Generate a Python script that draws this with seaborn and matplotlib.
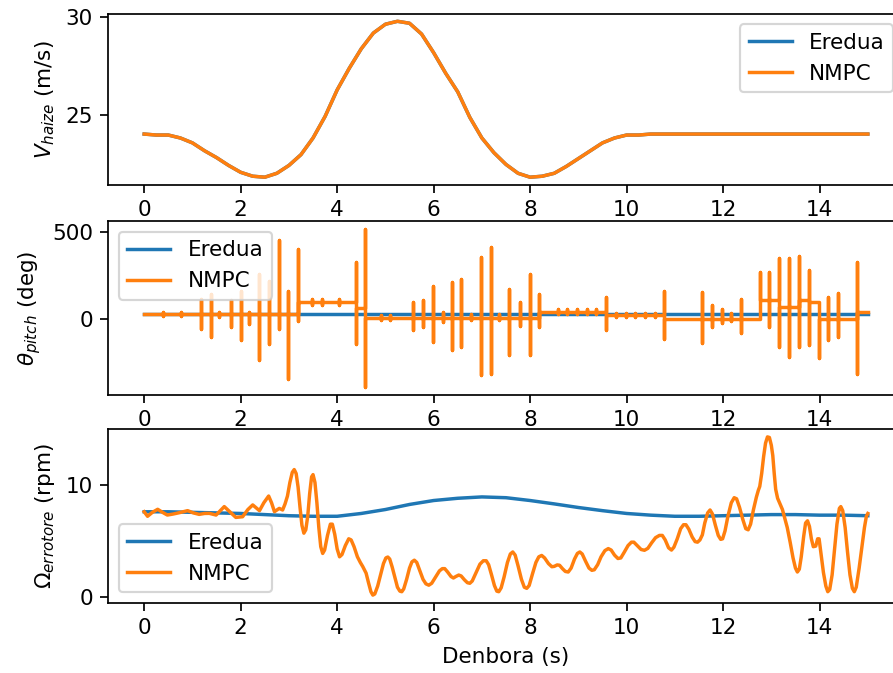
import numpy as np
import matplotlib
matplotlib.use("Agg")
import matplotlib.pyplot as plt
import seaborn as sns

# ---------------- wind speed (m/s) ----------------
wind_t = np.arange(0, 15.01, 0.25)
wind_v = [24.05, 24.0, 24.0, 23.85, 23.6, 23.2, 22.85, 22.45, 22.1, 21.9,
          21.85, 22.05, 22.45, 23.0, 23.85, 24.95, 26.3, 27.4, 28.4, 29.2,
          29.65, 29.8, 29.7, 29.15, 28.2, 27.15, 26.2, 24.9, 23.85, 23.1,
          22.5, 22.05, 21.85, 21.9, 22.05, 22.4, 22.8, 23.2, 23.6, 23.85,
          24.0, 24.0, 24.05, 24.05, 24.05, 24.05, 24.05, 24.05, 24.05, 24.05,
          24.05, 24.05, 24.05, 24.05, 24.05, 24.05, 24.05, 24.05, 24.05, 24.05,
          24.05]

# ---------------- pitch angle (deg) ----------------
ref_pitch_t = [0.0, 5.0, 10.0, 15.0]
ref_pitch_v = [27, 27, 27, 27]

# NMPC pitch: plateau levels between breakpoints ...
pitch_break_t = [0.0, 3.19, 4.39, 4.58, 8.19, 9.58, 10.77, 12.76, 13.16,
                 13.57, 13.78, 13.98, 14.78, 15.0]
pitch_level = [27, 96, 65, 7, 42, 20, 0, 110, 67, 110, 96, 0, 37]
# ... and the spikes (time, upper peak, lower peak)
spike_t = [0.38, 0.76, 1.18, 1.38, 1.56, 1.80, 2.00, 2.18, 2.39, 2.59, 2.80,
           2.99, 3.19, 3.48, 3.68, 4.03, 4.39, 4.58, 4.90, 5.10, 5.57, 5.77,
           5.98, 6.19, 6.38, 6.57, 6.78, 6.98, 7.19, 7.36, 7.57, 7.78, 7.99,
           8.19, 8.57, 8.77, 8.98, 9.17, 9.37, 9.58, 9.79, 9.98, 10.18, 10.39,
           10.58, 10.77, 11.57, 11.77, 11.97, 12.17, 12.37, 12.76, 12.95,
           13.16, 13.37, 13.57, 13.78, 13.98, 14.18, 14.39, 14.78]
spike_hi = [37, 37, 115, 144, 40, 106, 163, 40, 260, 221, 456,
            163, 404, 112, 112, 114, 327, 520, 20, 20, 96, 106,
            192, 40, 211, 230, 25, 356, 417, 25, 173, 96, 260,
            144, 55, 55, 55, 55, 55, 125, 34, 34, 34, 34,
            34, 163, 154, 81, 58, 35, 115, 273, 273,
            350, 350, 365, 283, 96, 129, 148, 327]
spike_lo = [18, 18, -58, -106, 10, -48, -121, -30, -241, -144, -58,
            -347, -10, 80, 80, 78, -144, -395, -5, -5, -67, -48,
            -135, -20, -183, -164, -5, -327, -318, -5, -212, -40, -212,
            -48, 30, 30, 30, 30, 30, -62, 8, 8, 8, 8,
            8, -116, -141, -46, -27, -15, -81, 0, -48,
            -164, -222, -164, -154, -227, -121, -106, -318]

# ---------------- rotor speed (rpm) ----------------
ref_rotor_t = [0, 0.5, 1, 1.5, 2, 2.5, 3, 3.5, 4, 4.5, 5, 5.5, 6, 6.5, 7, 7.5,
               8, 8.5, 9, 9.5, 10, 10.5, 11, 11.5, 12, 12.5, 13, 13.5, 14,
               14.5, 15]
ref_rotor_v = [7.6, 7.6, 7.55, 7.5, 7.45, 7.35, 7.25, 7.2, 7.2, 7.45, 7.8,
               8.25, 8.6, 8.8, 8.92, 8.85, 8.6, 8.3, 7.98, 7.7, 7.45, 7.3,
               7.2, 7.2, 7.25, 7.3, 7.35, 7.35, 7.3, 7.3, 7.25]

nmpc_rotor_t = [0.00, 0.07, 0.17, 0.28, 0.38, 0.48, 0.60, 0.73, 0.90, 1.02,
                1.14, 1.25, 1.35, 1.49, 1.58, 1.66, 1.75, 1.90, 2.04, 2.15,
                2.25, 2.32, 2.39, 2.48, 2.58, 2.64, 2.70, 2.80, 2.87,
                2.92, 2.97, 3.02, 3.07, 3.11, 3.15, 3.19, 3.23, 3.27, 3.31,
                3.35, 3.39, 3.43, 3.47, 3.50, 3.54, 3.58, 3.62, 3.66, 3.70,
                3.74, 3.80, 3.86, 3.90, 3.95, 4.00, 4.05, 4.10, 4.17, 4.24,
                4.29, 4.35, 4.42, 4.48, 4.53,
                4.60, 4.65, 4.70, 4.74, 4.78, 4.84, 4.90, 4.96, 5.01, 5.05,
                5.09, 5.14, 5.20, 5.25, 5.30, 5.34, 5.38, 5.44, 5.50, 5.55,
                5.60, 5.65, 5.71, 5.78, 5.84, 5.90, 5.96, 6.04, 6.12, 6.18,
                6.23, 6.29, 6.36, 6.41, 6.46, 6.52, 6.57, 6.64, 6.70, 6.75,
                6.80, 6.88, 6.96, 7.03, 7.09, 7.14, 7.20, 7.26, 7.31, 7.35,
                7.40, 7.46, 7.53, 7.59, 7.64, 7.69, 7.75, 7.82, 7.88, 7.93,
                7.98, 8.05, 8.12, 8.18, 8.24, 8.30, 8.38, 8.45, 8.50, 8.56,
                8.61, 8.67, 8.73, 8.79, 8.85, 8.92, 8.98, 9.03, 9.08, 9.15,
                9.22, 9.28, 9.33, 9.40, 9.47, 9.55, 9.62, 9.68, 9.75, 9.82,
                9.88, 9.95, 10.03, 10.10, 10.15, 10.22, 10.30, 10.37, 10.44, 10.52,
                10.60, 10.68, 10.74, 10.80, 10.87, 10.93, 10.98, 11.05, 11.12, 11.18,
                11.23, 11.29, 11.36, 11.42, 11.47, 11.52, 11.57, 11.62, 11.68, 11.73,
                11.78, 11.84, 11.90, 11.95, 11.99, 12.04, 12.10, 12.17, 12.23, 12.28,
                12.34, 12.41, 12.47, 12.52, 12.57, 12.63, 12.69, 12.73, 12.76, 12.80,
                12.84, 12.88, 12.92, 12.96, 13.00, 13.03, 13.06, 13.09, 13.13, 13.18,
                13.23, 13.28, 13.33, 13.39, 13.45, 13.50, 13.54, 13.58, 13.62, 13.67,
                13.71, 13.75, 13.79, 13.83, 13.87, 13.92, 13.96, 13.99, 14.03, 14.08,
                14.13, 14.17, 14.21, 14.26, 14.31, 14.36, 14.41, 14.44, 14.48, 14.53,
                14.58, 14.63, 14.68, 14.72, 14.76, 14.82, 14.88, 14.93, 14.97, 15.00]
nmpc_rotor_v = [7.60, 7.20, 7.55, 7.82, 7.55, 7.31, 7.40, 7.52, 7.70, 7.50,
                7.37, 7.45, 7.46, 7.31, 7.70, 8.06, 7.70, 7.10, 7.16, 7.80,
                8.21, 7.95, 7.70, 8.40, 9.00, 8.40, 7.61, 7.90, 7.76,
                8.3, 9.0, 10.2, 11.1, 11.35, 11.0, 9.8, 8.0, 6.4, 5.7,
                6.0, 7.2, 9.2, 10.7, 10.9, 10.2, 8.4, 6.2, 4.5, 3.9,
                4.2, 5.5, 6.5, 6.5, 5.6, 4.3, 3.6, 3.8, 4.6, 5.2,
                5.1, 4.5, 3.6, 3.1, 2.74,
                2.15, 1.3, 0.5, 0.2, 0.3, 1.0, 2.0, 3.0, 3.5, 3.58,
                3.4, 2.7, 1.7, 0.9, 0.55, 0.5, 0.75, 1.6, 2.6, 3.15,
                3.3, 3.1, 2.4, 1.6, 1.2, 1.08, 1.25, 1.8, 2.35, 2.55,
                2.55, 2.25, 1.85, 1.72, 1.85, 1.98, 1.9, 1.55, 1.3, 1.25,
                1.45, 2.2, 2.95, 3.25, 3.25, 2.9, 2.0, 1.05, 0.55, 0.5,
                0.85, 1.8, 3.1, 3.85, 4.03, 3.75, 2.8, 1.6, 0.9, 0.8,
                1.05, 2.1, 3.1, 3.6, 3.72, 3.5, 3.0, 2.72, 2.75, 2.88,
                2.85, 2.55, 2.3, 2.25, 2.6, 3.4, 3.9, 4.03, 3.85, 3.2,
                2.6, 2.4, 2.45, 2.9, 3.6, 4.15, 4.33, 4.2, 3.75, 3.45,
                3.5, 4.0, 4.6, 4.9, 4.9, 4.6, 4.25, 4.18, 4.35, 4.85,
                5.3, 5.5, 5.5, 5.1, 4.4, 4.2, 4.45, 5.2, 6.1, 6.45,
                6.45, 6.05, 5.35, 4.95, 4.9, 5.1, 5.55, 6.6, 7.5, 7.76,
                7.4, 6.4, 5.5, 5.15, 5.2, 5.9, 7.2, 8.4, 8.85, 8.75,
                8.0, 6.9, 6.1, 6.0, 6.5, 7.8, 8.9, 9.5, 9.85, 11.0,
                12.5, 13.7, 14.25, 14.2, 13.5, 12.6, 11.0, 9.6, 8.8, 8.3,
                7.8, 7.0, 6.2, 4.9, 3.5, 2.6, 2.25, 2.5, 3.6, 5.4,
                6.6, 6.8, 6.3, 5.2, 4.5, 4.55, 5.2, 5.2, 3.9, 2.2,
                1.0, 0.5, 0.7, 2.0, 4.3, 6.5, 7.9, 8.06, 7.7, 6.2,
                4.0, 2.0, 0.8, 0.5, 0.9, 2.6, 4.6, 6.2, 7.2, 7.45]


def level_at(t, side):
    """Plateau level just before (side=-1) or after (side=+1) time t."""
    idx = np.searchsorted(pitch_break_t, t, side="left" if side < 0 else "right") - 1
    idx = int(np.clip(idx, 0, len(pitch_level) - 1))
    return pitch_level[idx]


# Assemble the NMPC pitch trace from plateaus and spikes
events = sorted(set(pitch_break_t[1:-1]) | set(spike_t))
spikes = dict(zip(spike_t, zip(spike_hi, spike_lo)))
nmpc_pitch_t = [pitch_break_t[0]]
nmpc_pitch_v = [pitch_level[0]]
for te in events:
    nmpc_pitch_t.append(te)
    nmpc_pitch_v.append(level_at(te, -1))
    if te in spikes:
        hi, lo = spikes[te]
        nmpc_pitch_t += [te, te]
        nmpc_pitch_v += [hi, lo]
    nmpc_pitch_t.append(te)
    nmpc_pitch_v.append(level_at(te, +1))
nmpc_pitch_t.append(pitch_break_t[-1])
nmpc_pitch_v.append(pitch_level[-1])

# ---------------- figure ----------------
DPI = 155
W, H = 893, 673
fig = plt.figure(figsize=(W / DPI, H / DPI), dpi=DPI)


def px_axes(left, top, right, bottom):
    return fig.add_axes([left / W, 1 - bottom / H, (right - left) / W, (bottom - top) / H])


ax1 = px_axes(108, 13.5, 904, 185)
ax2 = px_axes(108, 221, 904, 395)
ax3 = px_axes(108, 429, 904, 603)

blue, orange = "#1f77b4", "#ff7f0e"
kw = dict(estimator=None, sort=False, linewidth=1.6)

sns.lineplot(x=wind_t, y=wind_v, ax=ax1, color=blue, label="Eredua", **kw)
sns.lineplot(x=wind_t, y=wind_v, ax=ax1, color=orange, label="NMPC", **kw)
ax1.set_ylabel(r"$V_{haize}$ (m/s)")
ax1.set_yticks([25, 30])
ax1.legend(loc="upper right")

sns.lineplot(x=ref_pitch_t, y=ref_pitch_v, ax=ax2, color=blue, label="Eredua", **kw)
sns.lineplot(x=nmpc_pitch_t, y=nmpc_pitch_v, ax=ax2, color=orange, label="NMPC", **kw)
ax2.set_ylabel(r"$\theta_{pitch}$ (deg)")
ax2.set_yticks([0, 500])
ax2.legend(loc="upper left")

sns.lineplot(x=ref_rotor_t, y=ref_rotor_v, ax=ax3, color=blue, label="Eredua", **kw)
sns.lineplot(x=nmpc_rotor_t, y=nmpc_rotor_v, ax=ax3, color=orange, label="NMPC", **kw)
ax3.set_ylabel(r"$\Omega_{errotore}$ (rpm)")
ax3.set_yticks([0, 10])
ax3.legend(loc="lower left")
ax3.set_xlabel("Denbora (s)")

for ax in (ax1, ax2, ax3):
    ax.set_xlim(-0.75, 15.75)
    ax.set_xticks([0, 2, 4, 6, 8, 10, 12, 14])

fig.savefig("out.png", dpi=DPI)
